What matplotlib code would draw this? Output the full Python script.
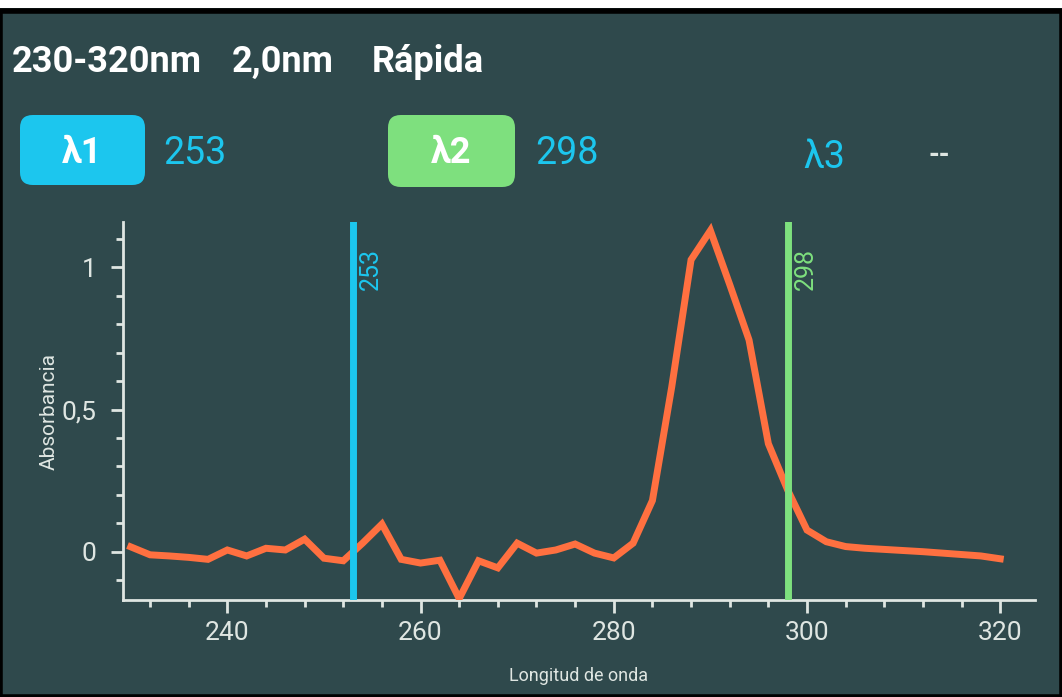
import matplotlib
matplotlib.use("Agg")
import matplotlib.pyplot as plt
from matplotlib.patches import FancyBboxPatch, Rectangle
from matplotlib.ticker import MultipleLocator, FuncFormatter

plt.rcParams['font.family'] = ['Roboto', 'DejaVu Sans']

# scan 230-320 nm, step 2,0 nm
wavelength = [230, 232, 234, 236, 238, 240, 242, 244, 246, 248,
              250, 252, 254, 256, 258, 260, 262, 264, 266, 268,
              270, 272, 274, 276, 278, 280, 282, 284, 286, 288,
              290, 292, 294, 296, 298, 300, 302, 304, 306, 308,
              310, 312, 314, 316, 318, 320]
absorbance = [0.017, -0.011, -0.015, -0.020, -0.027, 0.006, -0.015, 0.012, 0.006, 0.044,
              -0.023, -0.032, 0.030, 0.097, -0.027, -0.040, -0.030, -0.165, -0.032, -0.057,
              0.030, -0.005, 0.006, 0.027, -0.005, -0.022, 0.030, 0.180, 0.580, 1.027,
              1.130, 0.940, 0.745, 0.380, 0.217, 0.076, 0.035, 0.018, 0.012, 0.008,
              0.004, 0.000, -0.005, -0.010, -0.015, -0.025]

marker_names = ['λ1', 'λ2', 'λ3']
marker_values = [253, 298, None]
header = ['230-320nm', '2,0nm', 'Rápida']

bg = '#2f494c'
fg = '#dfe6e2'
cyan = '#1cc6ee'
green = '#7ee07e'
orange = '#ff7040'

W, H = 1062, 697
fig = plt.figure(figsize=(W / 100, H / 100), dpi=100, facecolor=bg)


def fx(px):
    return px / W


def fy(py):
    return 1 - py / H


ax = fig.add_axes([fx(123), fy(600), fx(1035) - fx(123), fy(222) - fy(600)])
ax.set_facecolor(bg)

ax.plot(wavelength, absorbance, color=orange, lw=5, solid_joinstyle='miter', zorder=3)

line_cols = [cyan, green]
for wl, c in zip(marker_values[:2], line_cols):
    ax.axvline(wl, color=c, lw=5, zorder=4)
    ax.text(wl + 0.6, 1.07, str(wl), color=c, rotation=90, fontsize=18,
            ha='left', va='top', zorder=5)

ax.set_xlim(229.2, 323.6)
ax.set_ylim(-0.17, 1.16)
ax.xaxis.set_major_locator(MultipleLocator(20))
ax.xaxis.set_minor_locator(MultipleLocator(4))
ax.yaxis.set_major_locator(MultipleLocator(0.5))
ax.yaxis.set_minor_locator(MultipleLocator(0.1))
ax.yaxis.set_major_formatter(FuncFormatter(lambda v, p: ('%g' % v).replace('.', ',')))

for s in ['top', 'right']:
    ax.spines[s].set_visible(False)
for s in ['left', 'bottom']:
    ax.spines[s].set_color(fg)
    ax.spines[s].set_linewidth(2)
ax.tick_params(which='major', colors=fg, length=9, width=2, labelsize=19, direction='out')
ax.tick_params(which='minor', colors=fg, length=5, width=2)
ax.tick_params(axis='x', pad=6)
ax.tick_params(axis='y', pad=10)
ax.set_xlabel('Longitud de onda', color=fg, fontsize=13, labelpad=16)
ax.set_ylabel('Absorbancia', color=fg, fontsize=15, labelpad=2)

# header line
hx = [12, 232, 372]
for t, x in zip(header, hx):
    fig.text(fx(x), fy(62), t, color='white', fontsize=26, fontweight='bold',
             ha='left', va='center')

# wavelength selectors
boxes = [(20, 115, 125, 70, cyan), (388, 115, 127, 72, green)]
for (x, y, w, h, c) in boxes:
    fig.patches.append(FancyBboxPatch((fx(x), fy(y + h)), fx(w), h / H,
                                      boxstyle='round,pad=0,rounding_size=0.012',
                                      transform=fig.transFigure, facecolor=c,
                                      edgecolor='none', mutation_aspect=W / H))
fig.text(fx(82), fy(153), marker_names[0], color='white', fontsize=26,
         fontweight='bold', ha='center', va='center')
fig.text(fx(163), fy(153), str(marker_values[0]), color=cyan, fontsize=27,
         ha='left', va='center')
fig.text(fx(451), fy(153), marker_names[1], color='white', fontsize=26,
         fontweight='bold', ha='center', va='center')
fig.text(fx(535), fy(153), str(marker_values[1]), color=cyan, fontsize=27,
         ha='left', va='center')
fig.text(fx(803), fy(157), marker_names[2], color=cyan, fontsize=27,
         ha='left', va='center')
fig.text(fx(928), fy(155), '--', color=fg, fontsize=20, fontweight='bold',
         ha='left', va='center')

# photo frame: black border, white strip on top
fig.patches.append(Rectangle((0, 0), 1, fy(11), transform=fig.transFigure, fill=False,
                             edgecolor='black', linewidth=4, zorder=10))
fig.patches.append(Rectangle((0, fy(8)), 1, 8 / H, transform=fig.transFigure,
                             facecolor='white', edgecolor='none', zorder=11))

fig.savefig('out.png', dpi=100, facecolor=bg)
